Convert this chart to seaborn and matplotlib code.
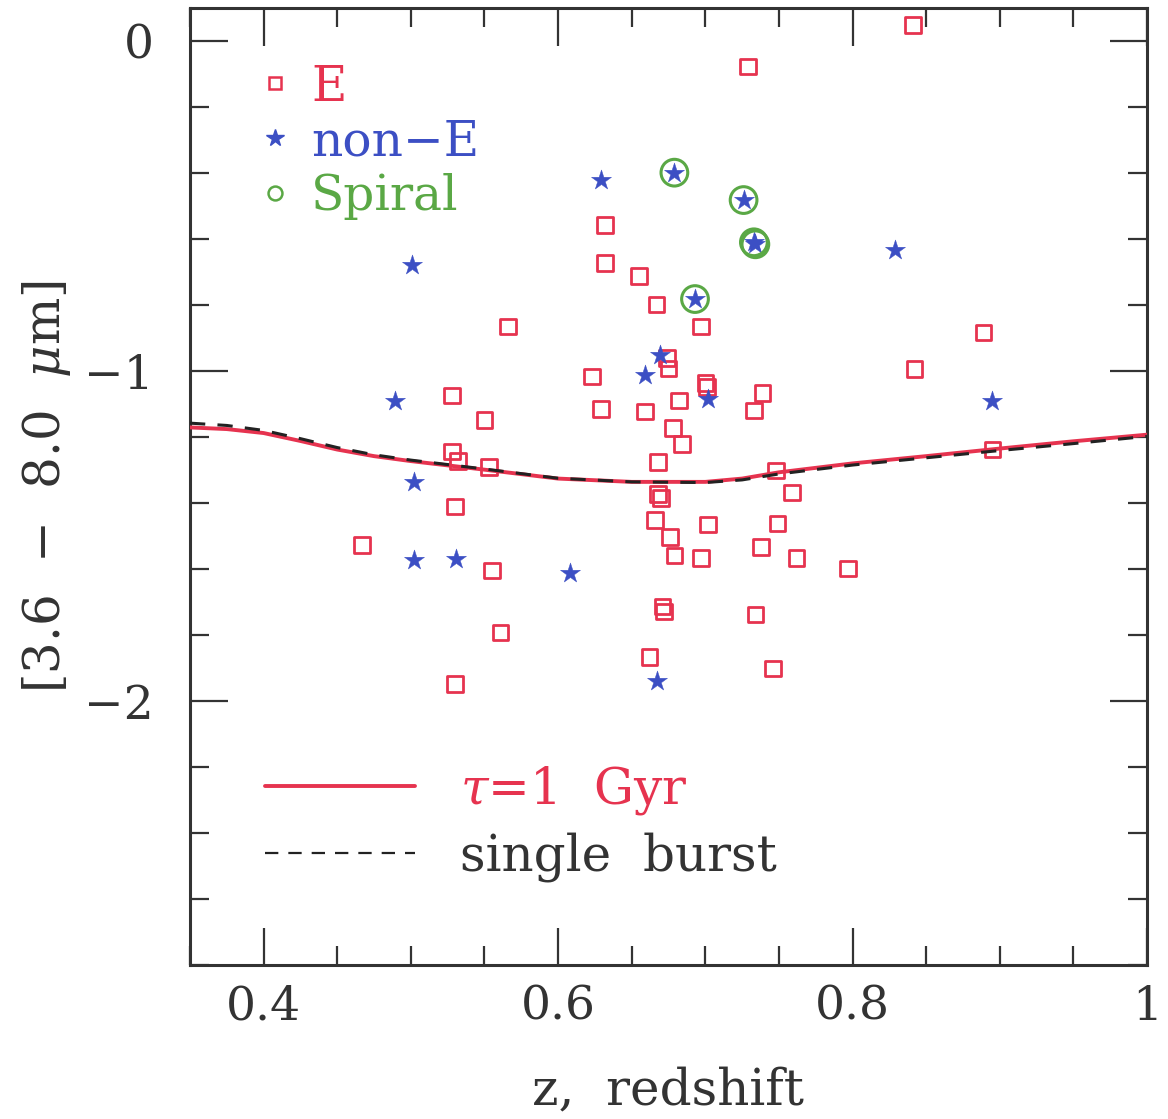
import matplotlib
matplotlib.use("Agg")
import matplotlib.pyplot as plt
from matplotlib.lines import Line2D
from matplotlib.ticker import MultipleLocator, FixedLocator, FixedFormatter
import seaborn as sns

# ---------------- data ----------------
e_z = [0.841, 0.729, 0.632, 0.632, 0.655, 0.667, 0.566, 0.697, 0.889, 0.842,
       0.623, 0.674, 0.675, 0.700, 0.701, 0.739, 0.733, 0.528, 0.550, 0.629,
       0.659, 0.682, 0.678, 0.684, 0.668, 0.528, 0.532, 0.553, 0.748, 0.759,
       0.895, 0.668, 0.670, 0.530, 0.666, 0.676, 0.702, 0.749, 0.738, 0.679,
       0.697, 0.762, 0.797, 0.467, 0.555, 0.671, 0.672, 0.734, 0.561, 0.662,
       0.746, 0.530]
e_color = [0.048, -0.077, -0.558, -0.672, -0.712, -0.798, -0.865, -0.865, -0.884, -0.994,
           -1.017, -0.961, -0.993, -1.037, -1.049, -1.067, -1.120, -1.074, -1.148, -1.115,
           -1.123, -1.089, -1.173, -1.221, -1.276, -1.244, -1.272, -1.291, -1.301, -1.368,
           -1.238, -1.372, -1.385, -1.410, -1.452, -1.503, -1.465, -1.462, -1.533, -1.559,
           -1.566, -1.567, -1.599, -1.528, -1.604, -1.714, -1.729, -1.738, -1.793, -1.866,
           -1.902, -1.949]

nonE_z = [0.629, 0.501, 0.829, 0.669, 0.659, 0.489, 0.702, 0.895, 0.502, 0.502,
          0.531, 0.608, 0.667, 0.679, 0.726, 0.733, 0.734, 0.693]
nonE_color = [-0.421, -0.679, -0.633, -0.951, -1.012, -1.092, -1.085, -1.090, -1.337, -1.573,
              -1.569, -1.611, -1.940, -0.399, -0.482, -0.610, -0.616, -0.782]

spiral_z = [0.679, 0.726, 0.733, 0.734, 0.693]
spiral_color = [-0.399, -0.482, -0.610, -0.616, -0.782]

curve_z = [0.35, 0.375, 0.40, 0.425, 0.45, 0.475, 0.50, 0.55, 0.60, 0.65,
           0.70, 0.725, 0.75, 0.80, 0.85, 0.90, 0.95, 1.00]
tau1_color = [-1.171, -1.176, -1.188, -1.212, -1.238, -1.258, -1.273, -1.299, -1.326, -1.336,
              -1.336, -1.326, -1.307, -1.280, -1.258, -1.235, -1.213, -1.193]
burst_color = [-1.158, -1.165, -1.180, -1.205, -1.232, -1.254, -1.270, -1.297, -1.325, -1.336,
               -1.338, -1.330, -1.312, -1.285, -1.263, -1.241, -1.220, -1.198]

x_ticks = [0.4, 0.6, 0.8, 1.0]
x_ticklabels = ["0.4", "0.6", "0.8", "1"]
y_ticks = [0, -1, -2]
y_ticklabels = ["0", "\u22121", "\u22122"]

points_labels = ["E", "non\u2212E", "Spiral"]
line_labels = [r"$\tau$=1  Gyr", "single  burst"]

# ---------------- style ----------------
RED = "#e6334f"
BLUE = "#3c4fc4"
GREEN = "#5aa845"
DARK = "#333333"

sns.set_style("ticks")
plt.rcParams["font.family"] = ["DejaVu Serif"]
plt.rcParams["mathtext.fontset"] = "dejavuserif"
plt.rcParams["axes.edgecolor"] = DARK
plt.rcParams["xtick.color"] = DARK
plt.rcParams["ytick.color"] = DARK

fig = plt.figure(figsize=(11.68, 11.19), dpi=100)
ax = fig.add_axes([190 / 1168, 1 - 965 / 1119, 957 / 1168, 957 / 1119])

sns.scatterplot(x=e_z, y=e_color, ax=ax, marker="s", s=125,
                facecolor="none", edgecolor=RED, linewidth=2.0, zorder=3)
sns.scatterplot(x=nonE_z, y=nonE_color, ax=ax, marker="*", s=230,
                color=BLUE, edgecolor=BLUE, linewidth=0.3, zorder=4)
sns.scatterplot(x=spiral_z, y=spiral_color, ax=ax, marker="o", s=370,
                facecolor="none", edgecolor=GREEN, linewidth=2.2, zorder=5)

DASH = (0, (5, 4))
sns.lineplot(x=curve_z, y=tau1_color, ax=ax, color=RED, linewidth=2.8, zorder=6)
sns.lineplot(x=curve_z, y=burst_color, ax=ax, color="#222222", linewidth=2.2,
             linestyle=DASH, zorder=7)

ax.set_xlim(0.35, 1.0)
ax.set_ylim(-2.8, 0.1)

ax.xaxis.set_major_locator(FixedLocator(x_ticks))
ax.xaxis.set_major_formatter(FixedFormatter(x_ticklabels))
ax.yaxis.set_major_locator(FixedLocator(y_ticks))
ax.yaxis.set_major_formatter(FixedFormatter(y_ticklabels))
ax.xaxis.set_minor_locator(MultipleLocator(0.05))
ax.yaxis.set_minor_locator(MultipleLocator(0.2))

ax.tick_params(which="both", direction="in", top=True, right=True,
               width=1.6, colors=DARK)
ax.tick_params(which="major", length=27, labelsize=34)
ax.tick_params(axis="x", which="major", pad=14)
ax.tick_params(axis="y", which="major", pad=26)
ax.tick_params(which="minor", length=13.5)
for sp in ax.spines.values():
    sp.set_linewidth(2.2)
    sp.set_color(DARK)

ax.set_xlabel("z,  redshift", fontsize=36, color=DARK, labelpad=26)
ax.set_ylabel("[3.6  \u2212  8.0  $\\mu$m]", fontsize=36, color=DARK, labelpad=8)

# legend for the points
h1 = [Line2D([], [], marker="s", ls="none", mfc="none", mec=RED, ms=9, mew=1.8),
      Line2D([], [], marker="*", ls="none", mfc=BLUE, mec=BLUE, ms=13),
      Line2D([], [], marker="o", ls="none", mfc="none", mec=GREEN, ms=10, mew=1.8)]
leg1 = ax.legend(h1, points_labels, loc="upper left", bbox_to_anchor=(0.063, 0.942),
                 frameon=False, fontsize=35, handlelength=1.0, handletextpad=0.25,
                 labelspacing=0.16, borderpad=0, borderaxespad=0)
for t, c in zip(leg1.get_texts(), [RED, BLUE, GREEN]):
    t.set_color(c)
ax.add_artist(leg1)

h2 = [Line2D([], [], color=RED, lw=2.8),
      Line2D([], [], color="#222222", lw=1.6, ls=(0, (6, 4.5)))]
leg2 = ax.legend(h2, line_labels, loc="upper left", bbox_to_anchor=(0.078, 0.21),
                 frameon=False, fontsize=36, handlelength=3.0, handletextpad=0.9,
                 labelspacing=0.3, borderpad=0, borderaxespad=0)
for t, c in zip(leg2.get_texts(), [RED, DARK]):
    t.set_color(c)

fig.savefig("out.png", dpi=100)
